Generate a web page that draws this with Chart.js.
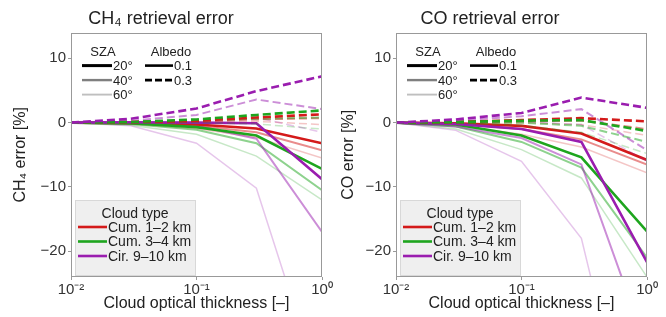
<!DOCTYPE html>
<html>
<head>
<meta charset="utf-8">
<script src="https://cdn.jsdelivr.net/npm/chart.js@4.4.1/dist/chart.umd.min.js"></script>
<style>
    html, body { margin: 0; padding: 0; background: #fff; }
    #wrap { position: relative; width: 666px; height: 317px; overflow: hidden; }
    #wrap canvas { position: absolute; top: 0; }
</style>
</head>
<body>
<div id="wrap">
    <canvas id="ch4-chart" width="333" height="317" style="left:0"></canvas>
    <canvas id="co-chart" width="333" height="317" style="left:333px"></canvas>
</div>
<script>
// Cloud optical thickness (x axis, log scale)
const opticalThickness = [0.01, 0.03, 0.1, 0.3, 1];
const xTicks = [0.01, 0.1, 1];
const xTickLabels = ["10\u207B\u00B2", "10\u207B\u00B9", "10\u2070"];
const yTicks = [-20, -10, 0, 10];

const cloudTypes = ["Cum. 1\u20132 km", "Cum. 3\u20134 km", "Cir. 9\u201310 km"];
const szaLabels = ["20\u00B0", "40\u00B0", "60\u00B0"];
const albedoLabels = ["0.1", "0.3"];

// CH4 error [%] - rows are SZA 20, 40, 60
const ch4Cum12Alb01 = [[0, -0.05, -0.3, -0.9, -3.2], [0, -0.1, -0.5, -1.5, -4.3], [0, -0.2, -0.9, -2.3, -5.5]];
const ch4Cum12Alb03 = [[0, 0.1, 0.3, 0.8, 1.3], [0, 0.05, 0.2, 0.5, 0.7], [0, 0, 0.1, 0.2, -0.3]];
const ch4Cum34Alb01 = [[0, -0.1, -0.7, -2.0, -7.2], [0, -0.2, -1.1, -3.2, -10.5], [0, -0.4, -1.8, -5.2, -12]];
const ch4Cum34Alb03 = [[0, 0.1, 0.5, 1.2, 1.9], [0, 0.05, 0.3, 0.6, 0.8], [0, 0, 0, -0.2, -1.0]];
const ch4CirAlb01 = [[0, 0.05, 0, -0.1, -8.8], [0, -0.1, -0.5, -2.5, -17], [0, -0.5, -3.2, -10.2, -42]];
const ch4CirAlb03 = [[0, 0.6, 2.2, 4.9, 7.2], [0, 0.3, 1.2, 3.6, 2.1], [0, 0.1, 0.3, 0.8, -1.5]];

// CO error [%] - rows are SZA 20, 40, 60
const coCum12Alb01 = [[0, -0.1, -0.5, -1.7, -5.8], [0, -0.2, -1.0, -2.6, -6.5], [0, -0.4, -1.8, -3.8, -7.8]];
const coCum12Alb03 = [[0, 0.1, 0.4, 0.7, 0.2], [0, 0.05, 0.2, 0.3, -1.0], [0, 0, 0, -0.3, -2.0]];
const coCum34Alb01 = [[0, -0.3, -2.0, -5.4, -16.9], [0, -0.6, -3.0, -7.0, -21], [0, -1.0, -4.2, -8.6, -24]];
const coCum34Alb03 = [[0, 0.1, 0.3, 0.4, -1.3], [0, 0, 0, -0.5, -3], [0, -0.1, -0.4, -1.5, -4.8]];
const coCirAlb01 = [[0, -0.2, -1.0, -3.0, -21.7], [0, -0.6, -2.4, -6.5, -35], [0, -1.2, -6.0, -18, -60]];
const coCirAlb03 = [[0, 0.5, 1.5, 3.9, 2.3], [0, 0.3, 1.0, 2.1, -4.3], [0, 0.1, 0.2, -0.3, -6]];

// Styles
const cloudColors = ["212, 26, 26", "30, 165, 30", "154, 29, 175"];
const szaAlpha = [1, 0.5, 0.25];
const szaWidth = [2.6, 2, 1.5];
const dashPattern = [8, 4];
const textFont = '"Liberation Sans", Arial, sans-serif';

/**
 * Build line datasets, drawn bottom to top: solid then dashed, light SZA first
 */
function buildDatasets(series) {
    const list = [];
    [0, 1].forEach((alb) => {
        [2, 1, 0].forEach((sza) => {
            series.forEach((cloud, c) => {
                list.push({
                    label: cloudTypes[c] + " " + szaLabels[sza] + " " + albedoLabels[alb],
                    data: opticalThickness.map((x, i) => ({ x: x, y: cloud[alb][sza][i] })),
                    borderColor: `rgba(${cloudColors[c]}, ${szaAlpha[sza]})`,
                    borderWidth: szaWidth[sza],
                    borderDash: alb === 1 ? dashPattern : [],
                    pointRadius: 0,
                    tension: 0,
                    fill: false,
                });
            });
        });
    });
    list.forEach((d, i) => (d.order = list.length - i));
    return list;
}

// Frame plus the two in-plot legends
const frameLegendPlugin = {
    id: "frameLegend",
    afterDatasetsDraw(chart) {
        const { ctx, chartArea: a } = chart;
        const L = a.left, T = a.top, B = a.bottom;
        ctx.save();
        ctx.strokeStyle = "#999";
        ctx.lineWidth = 1;
        ctx.strokeRect(Math.round(a.left) + 0.5, Math.round(a.top) + 0.5,
            Math.round(a.right - a.left) - 1, Math.round(a.bottom - a.top) - 1);

        ctx.fillStyle = "#222";
        ctx.font = "13px " + textFont;
        ctx.textBaseline = "middle";
        ctx.textAlign = "center";
        ctx.fillText("SZA", L + 32, T + 20);
        ctx.fillText("Albedo", L + 100, T + 20);
        ctx.textAlign = "left";
        szaLabels.forEach((s, i) => {
            const y = T + 33 + i * 14.5;
            ctx.strokeStyle = `rgba(0, 0, 0, ${szaAlpha[i]})`;
            ctx.lineWidth = szaWidth[i] + 0.4;
            ctx.setLineDash([]);
            ctx.beginPath();
            ctx.moveTo(L + 11, y);
            ctx.lineTo(L + 41, y);
            ctx.stroke();
            ctx.fillStyle = "#222";
            ctx.fillText(s, L + 42, y + 1);
        });
        albedoLabels.forEach((s, i) => {
            const y = T + 33 + i * 14.5;
            ctx.strokeStyle = "#000";
            ctx.lineWidth = 2.6;
            ctx.setLineDash(i === 1 ? [7, 3] : []);
            ctx.beginPath();
            ctx.moveTo(L + 74, y);
            ctx.lineTo(L + 102, y);
            ctx.stroke();
            ctx.fillText(s, L + 103, y + 1);
        });
        ctx.setLineDash([]);

        // Cloud type legend box
        ctx.fillStyle = "rgba(236, 236, 236, 0.85)";
        ctx.strokeStyle = "#d8d8d8";
        ctx.lineWidth = 1;
        ctx.fillRect(L + 4, B - 77, 120, 75);
        ctx.strokeRect(L + 4.5, B - 76.5, 120, 75);
        ctx.fillStyle = "#222";
        ctx.font = "14px " + textFont;
        ctx.textAlign = "center";
        ctx.fillText("Cloud type", L + 64, B - 63);
        ctx.textAlign = "left";
        cloudTypes.forEach((s, i) => {
            const y = B - 50 + i * 14.5;
            ctx.strokeStyle = `rgb(${cloudColors[i]})`;
            ctx.lineWidth = 2.6;
            ctx.beginPath();
            ctx.moveTo(L + 7, y);
            ctx.lineTo(L + 36, y);
            ctx.stroke();
            ctx.fillText(s, L + 37, y + 1);
        });
        ctx.restore();
    },
};

function createPanel(canvasId, title, yTitle, series, yAxisWidth, rightPad, yTitlePad) {
    const ctx = document.getElementById(canvasId);
    return new Chart(ctx, {
        type: "line",
        data: { datasets: buildDatasets(series) },
        options: {
            responsive: false,
            animation: false,
            layout: { padding: { left: 0, right: rightPad, top: 0, bottom: 0 } },
            plugins: {
                legend: { display: false },
                tooltip: { enabled: false },
                title: {
                    display: true,
                    text: title,
                    color: "#222",
                    font: { family: textFont, size: 18, weight: "normal" },
                    padding: { top: 8, bottom: 3 },
                },
            },
            scales: {
                x: {
                    type: "logarithmic",
                    min: 0.01,
                    max: 1,
                    afterBuildTicks: (scale) => {
                        scale.ticks = xTicks.map((v) => ({ value: v }));
                    },
                    afterFit: (scale) => {
                        scale.height = 40;
                        scale.paddingLeft = 0;
                        scale.paddingRight = 0;
                    },
                    ticks: {
                        color: "#333",
                        font: { family: textFont, size: 15 },
                        padding: 1,
                        maxRotation: 0,
                        autoSkip: false,
                        callback: (v) => xTickLabels[xTicks.indexOf(v)] || "",
                    },
                    grid: { display: true, drawOnChartArea: false, drawTicks: true, tickLength: 3, color: "#999" },
                    border: { display: false },
                    title: {
                        display: true,
                        text: "Cloud optical thickness [\u2013]",
                        color: "#222",
                        font: { family: textFont, size: 16 },
                        padding: { top: 0, bottom: 4 },
                    },
                },
                y: {
                    min: -24,
                    max: 14,
                    afterBuildTicks: (scale) => {
                        scale.ticks = yTicks.map((v) => ({ value: v }));
                    },
                    afterFit: (scale) => {
                        scale.width = yAxisWidth;
                        scale.paddingTop = 0;
                        scale.paddingBottom = 0;
                    },
                    ticks: {
                        color: "#333",
                        font: { family: textFont, size: 15 },
                        padding: 2,
                        callback: (v) => (v < 0 ? "\u2212" + Math.abs(v) : String(v)),
                    },
                    grid: { display: true, drawOnChartArea: false, drawTicks: true, tickLength: 3, color: "#999" },
                    border: { display: false },
                    title: {
                        display: true,
                        text: yTitle,
                        color: "#222",
                        font: { family: textFont, size: 16 },
                        padding: { top: yTitlePad, bottom: 0 },
                    },
                },
            },
        },
        plugins: [frameLegendPlugin],
    });
}

createPanel("ch4-chart", "CH\u2084 retrieval error", "CH\u2084 error [%]",
    [[ch4Cum12Alb01, ch4Cum12Alb03], [ch4Cum34Alb01, ch4Cum34Alb03], [ch4CirAlb01, ch4CirAlb03]],
    71, 11, 11);
createPanel("co-chart", "CO retrieval error", "CO error [%]",
    [[coCum12Alb01, coCum12Alb03], [coCum34Alb01, coCum34Alb03], [coCirAlb01, coCirAlb03]],
    63, 19, 6);
</script>
</body>
</html>
